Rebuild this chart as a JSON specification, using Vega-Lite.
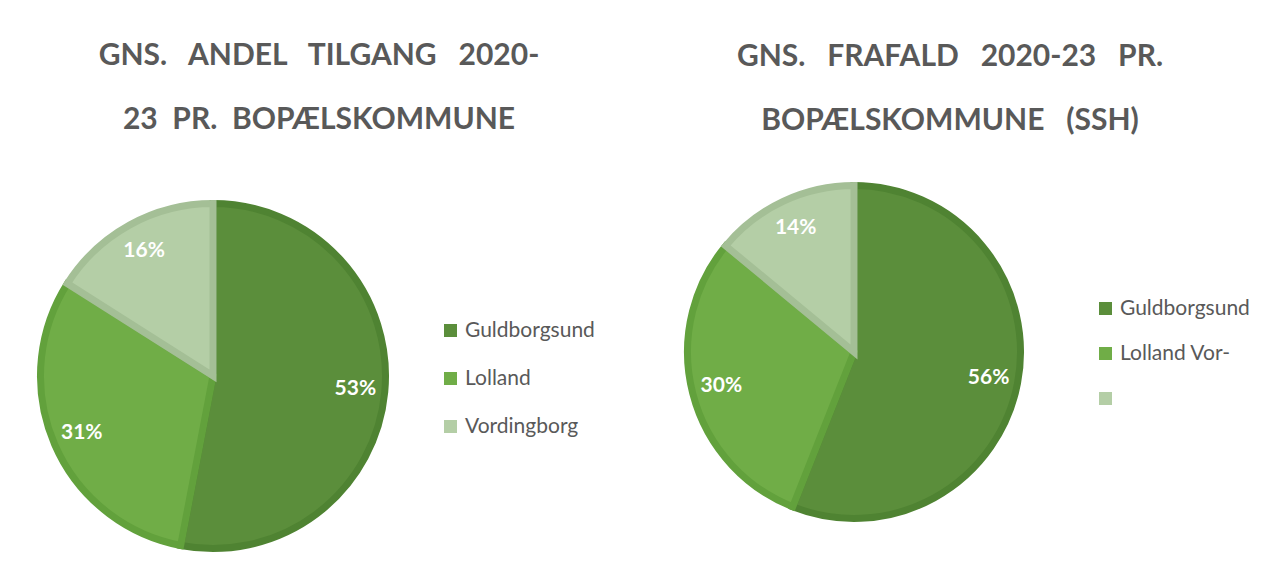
{
  "$schema": "https://vega.github.io/schema/vega-lite/v6.json",
  "background": "white",
  "autosize": {"type": "pad"},
  "padding": {"left": 26, "top": 41, "right": 0, "bottom": 0},
  "spacing": 78,
  "resolve": {"scale": {"color": "independent", "stroke": "independent"}, "legend": {"color": "independent"}},
  "datasets": {
    "tilgang": [
      {"kommune": "Guldborgsund", "andel": 0.53},
      {"kommune": "Lolland", "andel": 0.31},
      {"kommune": "Vordingborg", "andel": 0.16}
    ],
    "frafald": [
      {"kommune": "Guldborgsund", "andel": 0.56},
      {"kommune": "Lolland", "andel": 0.30},
      {"kommune": "Vordingborg", "andel": 0.14}
    ]
  },
  "config": {
    "view": {"stroke": null},
    "font": "Lato",
    "title": {"font": "Lato", "fontSize": 30, "fontWeight": "bold", "color": "#595959", "lineHeight": 64, "anchor": "middle", "frame": "group"},
    "legend": {"labelFont": "Lato", "labelFontSize": 21, "labelColor": "#595959", "symbolType": "square", "symbolSize": 169, "symbolStrokeWidth": 0, "labelOffset": 4, "padding": 0, "titleFontSize": 10, "titleColor": "white", "orient": "right", "labelLimit": 300}
  },
  "hconcat": [
    {
      "width": 352,
      "height": 392,
      "data": {"name": "tilgang"},
      "title": {"text": ["GNS.\u00a0\u00a0 ANDEL\u00a0\u00a0 TILGANG\u00a0\u00a0 2020-", "23\u00a0 PR.\u00a0 BOPÆLSKOMMUNE"], "dx": 106, "offset": 45},
      "layer": [
        {
          "mark": {"type": "arc", "outerRadius": 172.5, "strokeWidth": 7},
          "encoding": {
            "theta": {"field": "andel", "type": "quantitative", "stack": true},
            "order": {"field": "kommune", "type": "ordinal", "sort": "ascending"},
            "color": {"field": "kommune", "type": "nominal",
              "scale": {"domain": ["Guldborgsund", "Lolland", "Vordingborg"], "range": ["#5B8E3B", "#70AD47", "#B4CEA6"]},
              "legend": {"title": " ", "titlePadding": 130, "offset": 51, "rowPadding": 26}},
            "stroke": {"field": "kommune", "type": "nominal",
              "scale": {"domain": ["Guldborgsund", "Lolland", "Vordingborg"], "range": ["#4F8332", "#62A13C", "#A4BF96"]},
              "legend": null}
          }
        },
        {
          "mark": {"type": "text", "radius": 143, "fontSize": 21, "fontWeight": "bold", "fill": "white", "font": "Lato"},
          "encoding": {
            "theta": {"field": "andel", "type": "quantitative", "stack": true},
            "order": {"field": "kommune", "type": "ordinal", "sort": "ascending"},
            "detail": {"field": "kommune", "type": "nominal"},
            "text": {"field": "andel", "type": "quantitative", "format": ".0%"}
          }
        }
      ]
    },
    {
      "width": 340,
      "height": 344,
      "data": {"name": "frafald"},
      "title": {"text": ["GNS.\u00a0\u00a0 FRAFALD\u00a0\u00a0 2020-23\u00a0\u00a0 PR.", "BOPÆLSKOMMUNE\u00a0\u00a0 (SSH)"], "dx": 96, "offset": 36},
      "layer": [
        {
          "mark": {"type": "arc", "outerRadius": 166.5, "strokeWidth": 7},
          "encoding": {
            "theta": {"field": "andel", "type": "quantitative", "stack": true},
            "order": {"field": "kommune", "type": "ordinal", "sort": "ascending"},
            "color": {"field": "kommune", "type": "nominal",
              "scale": {"domain": ["Guldborgsund", "Lolland", "Vordingborg"], "range": ["#5B8E3B", "#70AD47", "#B4CEA6"]},
              "legend": {"title": " ", "titlePadding": 108, "offset": 71, "rowPadding": 23,
                "labelExpr": "datum.label == 'Vordingborg' ? '' : datum.label == 'Lolland' ? 'Lolland Vor-' : datum.label"}},
            "stroke": {"field": "kommune", "type": "nominal",
              "scale": {"domain": ["Guldborgsund", "Lolland", "Vordingborg"], "range": ["#4F8332", "#62A13C", "#A4BF96"]},
              "legend": null}
          }
        },
        {
          "mark": {"type": "text", "radius": 137, "fontSize": 21, "fontWeight": "bold", "fill": "white", "font": "Lato"},
          "encoding": {
            "theta": {"field": "andel", "type": "quantitative", "stack": true},
            "order": {"field": "kommune", "type": "ordinal", "sort": "ascending"},
            "detail": {"field": "kommune", "type": "nominal"},
            "text": {"field": "andel", "type": "quantitative", "format": ".0%"}
          }
        }
      ]
    }
  ]
}
